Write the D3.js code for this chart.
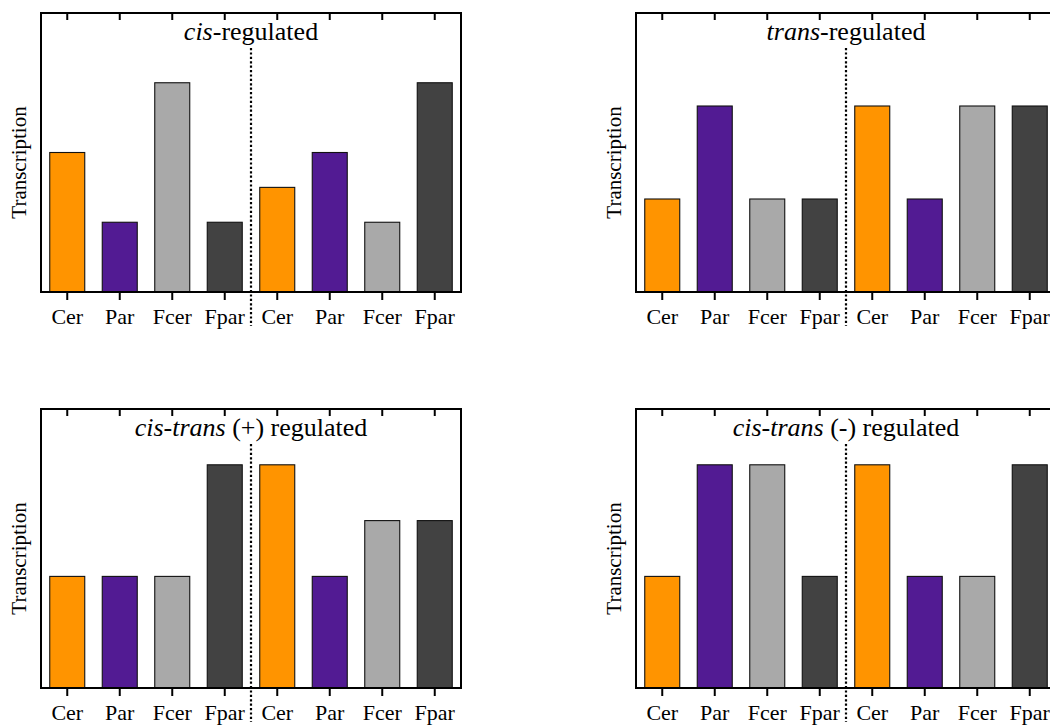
<!DOCTYPE html>
<html>
<head>
<meta charset="utf-8">
<script src="https://cdn.jsdelivr.net/npm/d3@7"></script>
<style>
  html, body { margin: 0; padding: 0; background: #fff; }
  svg { display: block; }
</style>
</head>
<body>
<svg id="chart" width="1050" height="726"></svg>
<script>
// ---- data ----
const categories = ["Cer", "Par", "Fcer", "Fpar", "Cer", "Par", "Fcer", "Fpar"];
const barColors = ["#FF9400", "#521B93", "#A9A9A9", "#424242", "#FF9400", "#521B93", "#A9A9A9", "#424242"];

const cisValues        = [4, 2, 6, 2, 3, 4, 2, 6];
const transValues      = [1, 2, 1, 1, 2, 1, 2, 2];
const cisTransPlus     = [2, 2, 2, 4, 4, 2, 3, 3];
const cisTransMinus    = [2, 4, 4, 2, 4, 2, 2, 4];

const yMaxima = [8, 3, 5, 5];
const titles = [
  [{t: "cis", i: true}, {t: "-regulated", i: false}],
  [{t: "trans", i: true}, {t: "-regulated", i: false}],
  [{t: "cis-trans", i: true}, {t: " (+) regulated", i: false}],
  [{t: "cis-trans", i: true}, {t: " (-) regulated", i: false}]
];
const seriesList = [cisValues, transValues, cisTransPlus, cisTransMinus];
const yLabel = "Transcription";

const SERIF = "Liberation Serif, Times New Roman, serif";

// ---- layout ----
const panelW = 420;
const panels = [
  {x: 41, y: 13, h: 279},
  {x: 636, y: 13, h: 279},
  {x: 41, y: 409, h: 279},
  {x: 636, y: 409, h: 279}
];

const svg = d3.select("#chart");

panels.forEach((p, k) => {
  const values = seriesList[k];
  const g = svg.append("g").attr("transform", `translate(${p.x},${p.y})`);

  const x = d3.scaleBand()
    .domain(d3.range(categories.length))
    .range([0, panelW])
    .paddingInner(1 / 3)
    .paddingOuter(1 / 6);
  const y = d3.scaleLinear().domain([0, yMaxima[k]]).range([p.h, 0]);

  // bars
  g.selectAll("rect.bar")
    .data(values)
    .join("rect")
    .attr("class", "bar")
    .attr("x", (d, i) => x(i))
    .attr("width", x.bandwidth())
    .attr("y", d => y(d))
    .attr("height", d => y(0) - y(d))
    .attr("fill", (d, i) => barColors[i])
    .attr("stroke", "#111")
    .attr("stroke-width", 1.1);

  // bottom axis
  const bottom = g.append("g")
    .attr("transform", `translate(0,${p.h})`)
    .call(d3.axisBottom(x).tickSize(8).tickSizeOuter(0).tickFormat(i => categories[i]));
  bottom.attr("font-family", SERIF).attr("font-size", 22);
  bottom.select(".domain").remove();
  bottom.selectAll(".tick line").attr("stroke", "#000").attr("stroke-width", 2);
  bottom.selectAll(".tick text")
    .attr("y", 31.5).attr("dy", 0)
    .attr("font-family", SERIF)
    .attr("font-size", 22)
    .attr("fill", "#000");

  // top axis (ticks pointing inward)
  const top = g.append("g")
    .call(d3.axisTop(x).tickSize(-7).tickSizeOuter(0).tickFormat(""));
  top.select(".domain").remove();
  top.selectAll(".tick line").attr("stroke", "#000").attr("stroke-width", 2);

  // frame
  g.append("rect")
    .attr("x", 0).attr("y", 0)
    .attr("width", panelW).attr("height", p.h)
    .attr("fill", "none")
    .attr("stroke", "#000")
    .attr("stroke-width", 2);

  // dotted separator
  const sepX = (x(3) + x.bandwidth() + x(4)) / 2;
  g.append("line")
    .attr("x1", sepX).attr("x2", sepX)
    .attr("y1", 35).attr("y2", p.h + 34)
    .attr("stroke", "#000")
    .attr("stroke-width", 2.2)
    .attr("stroke-dasharray", "2.2,2.2");

  // title
  const t = g.append("text")
    .attr("x", panelW / 2)
    .attr("y", 27)
    .attr("text-anchor", "middle")
    .attr("font-family", SERIF)
    .attr("font-size", 26)
    .attr("fill", "#000");
  titles[k].forEach(part => {
    t.append("tspan").text(part.t).attr("font-style", part.i ? "italic" : "normal");
  });

  // y label
  g.append("text")
    .attr("transform", `translate(-15.5,${p.h / 2 + 10}) rotate(-90)`)
    .attr("text-anchor", "middle")
    .attr("font-family", SERIF)
    .attr("font-size", 21)
    .attr("fill", "#000")
    .text(yLabel);
});
</script>
</body>
</html>
